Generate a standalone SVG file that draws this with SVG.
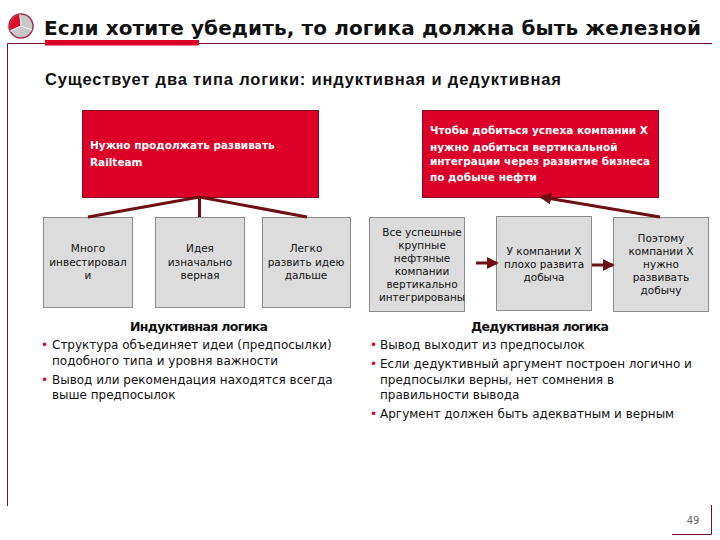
<svg xmlns="http://www.w3.org/2000/svg" width="720" height="540" viewBox="0 0 720 540">
<style>
text{font-family:"DejaVu Sans","Liberation Sans",sans-serif;fill:#111}
.box{fill:#dcdcdc;stroke:#8c8c8c;stroke-width:1}
.red{fill:#dc0028;stroke:#7a1020;stroke-width:1}
.t{font-size:10.5px;text-anchor:middle}
.w{font-size:10.5px;fill:#fff;font-weight:bold}
.b{font-size:12px}
.d{font-size:12px;fill:#dc0028}
.h{font-size:12.500px;text-anchor:middle;font-weight:bold}
.c{stroke:#6e0f14;stroke-width:3;fill:none}
.rule{stroke:#7a1030;stroke-width:1;fill:none}
</style>
<defs><marker id="a" markerWidth="4" markerHeight="4" refX="3.400" refY="2" orient="auto"><path d="M0,0L4,2L0,4Z" fill="#6e0f14"/></marker></defs>
<rect width="720" height="540" fill="#fff"/>
<g id="frame">
<path class="rule" d="M7.500,506V43.500H712"/>
<path class="rule" d="M672,534.500H711.500V505"/>
<rect x="45" y="40" width="154" height="5.500" fill="#dc0028"/>
</g>
<g id="logo">
<circle cx="21" cy="26" r="12" fill="#c8c8c8" stroke="#a03048" stroke-width="1.500"/>
<path d="M21,26L20,14.500A12,12 0 0 0 10,30Z" fill="#e0102c"/>
<path d="M21,26L10.500,31M21,26L20,14.500M21,26L32,30" stroke="#fff" stroke-width="1.200"/>
</g>
<text x="44" y="35" font-size="20" font-weight="bold" textLength="657">Если хотите убедить, то логика должна быть железной</text>
<text x="45" y="85" style="font-family:'Liberation Sans',sans-serif" font-size="16.500" font-weight="bold" textLength="516">Существует два типа логики: индуктивная и дедуктивная</text>
<g id="n1"><rect class="red" x="82.500" y="110.500" width="236" height="87"/>
<text class="w" x="90" y="149">Нужно продолжать развивать</text><text class="w" x="90" y="166">Railteam</text></g>
<g id="n2"><rect class="box" x="43.500" y="217.500" width="89" height="90"/>
<text class="t" x="88" y="252">Много</text><text class="t" x="88" y="266">инвестировал</text><text class="t" x="88" y="279">и</text></g>
<g id="n3"><rect class="box" x="155.500" y="217.500" width="89" height="90"/>
<text class="t" x="200" y="252">Идея</text><text class="t" x="200" y="266">изначально</text><text class="t" x="200" y="279">верная</text></g>
<g id="n4"><rect class="box" x="262.500" y="217.500" width="88" height="90"/>
<text class="t" x="306" y="252">Легко</text><text class="t" x="306" y="266">развить идею</text><text class="t" x="306" y="279">дальше</text></g>
<g id="n5"><rect class="red" x="422.500" y="110.500" width="236" height="87"/>
<text class="w" x="430" y="134">Чтобы добиться успеха компании Х</text><text class="w" x="430" y="151">нужно добиться вертикальной</text><text class="w" x="430" y="165">интеграции через развитие бизнеса</text><text class="w" x="430" y="181">по добыче нефти</text></g>
<g id="n6"><rect class="box" x="369.500" y="217.500" width="95" height="94"/>
<text class="t" x="422" y="236">Все успешные</text><text class="t" x="422" y="249">крупные</text><text class="t" x="422" y="262">нефтяные</text><text class="t" x="422" y="275">компании</text><text class="t" x="422" y="288">вертикально</text><text class="t" x="422" y="301">интегрированы</text></g>
<g id="n7"><rect class="box" x="496.500" y="216.500" width="95" height="94"/>
<text class="t" x="544" y="255">У компании Х</text><text class="t" x="544" y="268">плохо развита</text><text class="t" x="544" y="281">добыча</text></g>
<g id="n8"><rect class="box" x="613.500" y="217.500" width="95" height="94"/>
<text class="t" x="661" y="242">Поэтому</text><text class="t" x="661" y="255">компании Х</text><text class="t" x="661" y="268">нужно</text><text class="t" x="661" y="281">развивать</text><text class="t" x="661" y="294">добычу</text></g>
<g id="connectors">
<path class="c" d="M199.500,197L88,217M199.500,197V217M199.500,197L307,217"/>
<path class="c" marker-end="url(#a)" d="M476,263H497"/>
<path class="c" marker-end="url(#a)" d="M592,265H613"/>
<path class="c" marker-end="url(#a)" d="M660,217L541,197"/>
</g>
<g id="left-text">
<text class="h" x="199" y="331" textLength="138">Индуктивная логика</text>
<text class="d" x="41" y="349" style="fill:#dc0028">•</text><text class="b" x="52" y="349">Структура объединяет идеи (предпосылки)</text>
<text class="b" x="52" y="365">подобного типа и уровня важности</text>
<text class="d" x="41" y="384" style="fill:#dc0028">•</text><text class="b" x="52" y="384">Вывод или рекомендация находятся всегда</text>
<text class="b" x="52" y="399">выше предпосылок</text>
</g>
<g id="right-text">
<text class="h" x="540" y="331" textLength="138">Дедуктивная логика</text>
<text class="d" x="370" y="349" style="fill:#dc0028">•</text><text class="b" x="380" y="349">Вывод выходит из предпосылок</text>
<text class="d" x="370" y="368" style="fill:#dc0028">•</text><text class="b" x="380" y="368">Если дедуктивный аргумент построен логично и</text>
<text class="b" x="380" y="384">предпосылки верны, нет сомнения в</text>
<text class="b" x="380" y="399">правильности вывода</text>
<text class="d" x="370" y="418" style="fill:#dc0028">•</text><text class="b" x="380" y="418">Аргумент должен быть адекватным и верным</text>
</g>
<text x="693" y="524" font-size="10" text-anchor="middle" style="fill:#666">49</text>
</svg>
